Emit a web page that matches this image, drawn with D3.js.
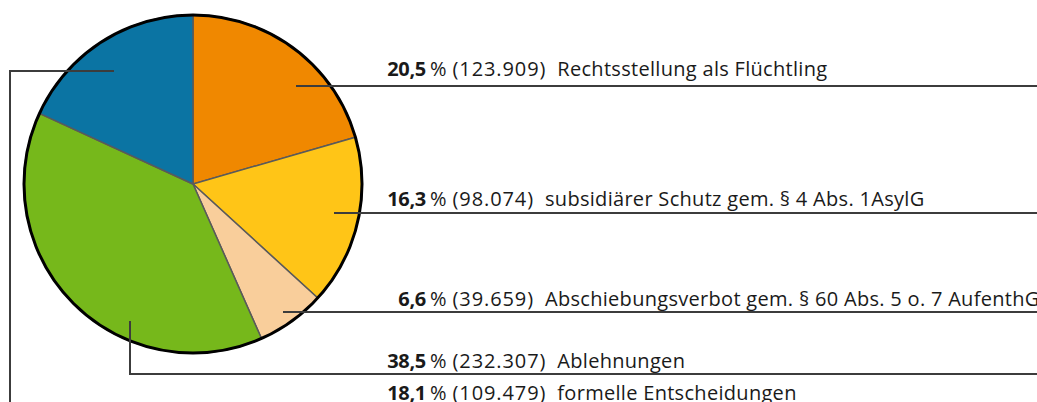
<!DOCTYPE html>
<html>
<head>
<meta charset="utf-8">
<script src="https://cdn.jsdelivr.net/npm/d3@7"></script>
<style>
  body { margin: 0; background: #fff; }
  svg { display: block; }
  text { font-family: "Open Sans", sans-serif; fill: #1a1a1a; }
</style>
</head>
<body>
<div id="chart"></div>
<script>
// data, clockwise from 12 o'clock
const shares = ["20,5", "16,3", "6,6", "38,5", "18,1"];
const values = [123909, 98074, 39659, 232307, 109479];
const counts = ["123.909", "98.074", "39.659", "232.307", "109.479"];
const labels = [
  "Rechtsstellung als Flüchtling",
  "subsidiärer Schutz gem. § 4 Abs. 1AsylG",
  "Abschiebungsverbot gem. § 60 Abs. 5 o. 7 AufenthG",
  "Ablehnungen",
  "formelle Entscheidungen"
];
const colors = ["#f08800", "#ffc517", "#f9ce9b", "#76b81b", "#0b74a3"];

let width = 1037, height = 402;
let cx = 193, cy = 184, r = 169;

let svg = d3.select("#chart")
  .append("svg")
    .attr("width", width)
    .attr("height", height);

let pie = d3.pie().sort(null)(values);
let arc = d3.arc().innerRadius(0).outerRadius(r);

let g = svg.append("g")
  .attr("transform", "translate(" + cx + "," + cy + ")");

g.selectAll("path")
  .data(pie)
  .enter()
  .append("path")
    .attr("d", arc)
    .attr("fill", (d, i) => colors[i])
    .attr("stroke", "#5a5a5a")
    .attr("stroke-width", 1.5);

g.append("circle")
  .attr("r", r)
  .attr("fill", "none")
  .attr("stroke", "#000")
  .attr("stroke-width", 3);

// label rows: baseline, leader y, anchor x inside the slice
let rows = [
  {base: 76, ly: 86, ax: 296},
  {base: 206, ly: 213, ax: 334},
  {base: 306, ly: 312, ax: 283},
  {base: 368, ly: 374, ax: 130, ay: 321},
  {base: 400, ly: 71, ax: 114}
];

let numX = 426;

// leader lines
let lines = svg.append("g")
  .attr("fill", "none")
  .attr("stroke", "#3c3c3c")
  .attr("stroke-width", 2);

rows.forEach(function(p, i) {
  let pts;
  if (i < 3) pts = [[p.ax, p.ly], [width, p.ly]];
  else if (i == 3) pts = [[p.ax, p.ay], [p.ax, p.ly], [width, p.ly]];
  else pts = [[p.ax, p.ly], [10, p.ly], [10, height + 5]];
  lines.append("path").attr("d", d3.line()(pts));
});

// texts
let t = svg.append("g").attr("font-size", 20);

rows.forEach(function(p, i) {
  t.append("text")
    .attr("x", numX)
    .attr("y", p.base)
    .attr("text-anchor", "end")
    .attr("font-weight", "bold")
    .attr("letter-spacing", -0.3)
    .text(shares[i]);
  let s = t.append("text")
    .attr("x", numX + 4)
    .attr("y", p.base);
  s.append("tspan").text("%");
  s.append("tspan").attr("dx", 6).attr("letter-spacing", 0.9)
    .text("(" + counts[i] + ")");
  s.append("tspan").attr("dx", 11).attr("letter-spacing", 0.3)
    .text(labels[i]);
});
</script>
</body>
</html>
